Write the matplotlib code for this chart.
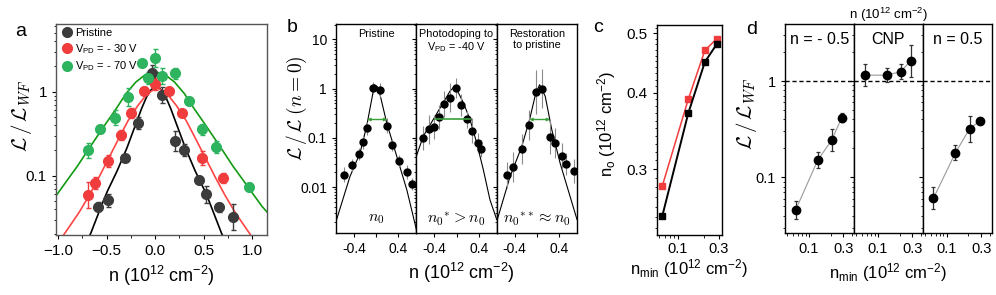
import matplotlib.pyplot as plt
import numpy as np
from matplotlib.ticker import LogLocator, NullFormatter, FixedLocator, MultipleLocator
from matplotlib.lines import Line2D

plt.rcParams['font.family'] = ['Liberation Sans', 'DejaVu Sans']
plt.rcParams['mathtext.fontset'] = 'custom'
plt.rcParams['mathtext.rm'] = 'Liberation Sans'
plt.rcParams['mathtext.it'] = 'Liberation Sans:italic'
plt.rcParams['mathtext.bf'] = 'Liberation Sans:bold'
plt.rcParams['axes.linewidth'] = 1.0
plt.rcParams['xtick.major.size'] = 3
plt.rcParams['ytick.major.size'] = 3
plt.rcParams['xtick.minor.size'] = 1.8
plt.rcParams['ytick.minor.size'] = 1.8

W, H = 996, 295

# ---------------- panel a: L/L_WF vs n ----------------
a_n_pri = [-0.589, -0.49, -0.315, -0.178, -0.034, 0.069, 0.206, 0.301, 0.452, 0.521, 0.661, 0.798]
a_L_pri = [0.043, 0.051, 0.161, 0.42, 1.65, 0.91, 0.26, 0.20, 0.089, 0.060, 0.042, 0.032]
a_f_pri = [1.13, 1.19, 1.05, 1.18, 1.25, 1.25, 1.32, 1.18, 1.05, 1.25, 1.12, 1.43]

a_n_30 = [-0.696, -0.624, -0.49, -0.349, -0.247, -0.11, 0.0, 0.137, 0.274, 0.48, 0.696]
a_L_30 = [0.059, 0.081, 0.151, 0.305, 0.553, 1.03, 1.24, 1.03, 0.553, 0.161, 0.093]
a_f_30 = [1.43, 1.18, 1.18, 1.15, 1.15, 1.12, 1.18, 1.08, 1.08, 1.21, 1.15]

a_n_70 = [-0.696, -0.565, -0.418, -0.281, -0.137, -0.069, 0.0, 0.069, 0.206, 0.343, 0.48, 0.624, 0.969]
a_L_70 = [0.202, 0.36, 0.49, 0.87, 2.18, 1.44, 2.5, 1.54, 1.65, 0.775, 0.356, 0.222, 0.074]
a_f_70 = [1.23, 1.12, 1.23, 1.28, 1.08, 1.18, 1.28, 1.25, 1.15, 1.08, 1.15, 1.18, 1.12]

# fit curves
fit_n_pri = [-0.70, -0.66, -0.59, -0.54, -0.49, -0.39, -0.29, -0.19, -0.14, -0.09, -0.04, 0.01,
             0.06, 0.11, 0.16, 0.21, 0.31, 0.41, 0.51, 0.56, 0.61, 0.68, 0.72]
fit_L_pri = [0.0165, 0.021, 0.034, 0.048, 0.066, 0.115, 0.215, 0.44, 0.63, 0.86, 1.06, 1.17,
             1.06, 0.86, 0.63, 0.44, 0.215, 0.115, 0.066, 0.048, 0.034, 0.021, 0.0165]
fit_n_30 = [-1.08, -0.98, -0.88, -0.78, -0.68, -0.58, -0.48, -0.38, -0.28, -0.18, -0.08, 0.02,
            0.12, 0.22, 0.32, 0.42, 0.52, 0.62, 0.72, 0.82, 0.92, 1.02, 1.12, 1.16]
fit_L_30 = [0.012, 0.017, 0.025, 0.037, 0.058, 0.095, 0.16, 0.27, 0.45, 0.68, 0.95, 1.12,
            0.95, 0.68, 0.45, 0.27, 0.16, 0.095, 0.058, 0.037, 0.025, 0.017, 0.012, 0.011]
fit_n_70 = [-1.15, -1.1, -1.0, -0.9, -0.8, -0.7, -0.6, -0.5, -0.4, -0.3, -0.2, -0.1, 0.0,
            0.1, 0.2, 0.3, 0.4, 0.5, 0.6, 0.7, 0.8, 0.9, 1.0, 1.1, 1.15]
fit_L_70 = [0.037, 0.043, 0.062, 0.09, 0.13, 0.195, 0.29, 0.43, 0.63, 0.95, 1.3, 1.6, 1.73,
            1.6, 1.3, 0.95, 0.63, 0.43, 0.29, 0.195, 0.13, 0.09, 0.062, 0.043, 0.037]

# ---------------- panel b: normalised L, three states ----------------
b_titles = ['Pristine', 'Photodoping to\nV$_{\\rm PD}$ = -40 V', 'Restoration\nto pristine']
b_bottom = [r'$n_0$', r'$n_0{}^{*} > n_0$', r'$n_0{}^{**} \approx n_0$']

b_n = [[-0.577, -0.428, -0.303, -0.242, -0.170, -0.052, 0.068, 0.199, 0.283, 0.414, 0.557, 0.636],
       [-0.60, -0.50, -0.41, -0.31, -0.22, -0.116, -0.014, 0.075, 0.194, 0.272, 0.38, 0.44],
       [-0.529, -0.432, -0.26, -0.134, -0.014, 0.099, 0.237, 0.326, 0.446, 0.523, 0.667]]
b_L = [[0.0178, 0.0276, 0.047, 0.084, 0.155, 1.01, 0.94, 0.178, 0.072, 0.034, 0.0199, 0.0115],
       [0.10, 0.148, 0.168, 0.263, 0.478, 0.655, 1.01, 0.46, 0.236, 0.141, 0.079, 0.0605],
       [0.0178, 0.0257, 0.059, 0.18, 0.85, 1.0, 0.103, 0.079, 0.0436, 0.030, 0.021]]
b_f = [[1.42, 1.33, 1.33, 1.39, 1.33, 1.33, 1.39, 1.39, 1.33, 1.33, 1.39, 1.33],
       [1.76, 2.0, 1.76, 1.76, 1.84, 2.0, 1.6, 1.68, 1.5, 1.76, 1.6, 1.5],
       [1.84, 2.0, 2.0, 2.0, 2.8, 2.5, 2.2, 2.0, 1.84, 1.68, 1.76]]

b_fit_n = [[-0.72, -0.47, -0.29, -0.17, -0.08, -0.03, 0.02, 0.07, 0.19, 0.37, 0.55, 0.72],
           [-0.72, -0.595, -0.416, -0.237, -0.116, -0.027, 0.122, 0.242, 0.362, 0.48, 0.60, 0.72],
           [-0.72, -0.48, -0.27, -0.13, -0.02, 0.05, 0.15, 0.267, 0.416, 0.595, 0.72]]
b_fit_L = [[0.002, 0.0164, 0.049, 0.173, 0.6, 1.2, 1.1, 0.75, 0.2, 0.042, 0.0088, 0.0014],
           [0.042, 0.108, 0.236, 0.52, 0.89, 1.13, 0.52, 0.236, 0.079, 0.0226, 0.0055, 0.0022],
           [0.002, 0.0164, 0.067, 0.236, 0.8, 1.2, 0.7, 0.148, 0.031, 0.0065, 0.0022]]

# width markers (green) at half height
b_width_lo = [-0.16, -0.387, -0.134]
b_width_hi = [0.199, 0.247, 0.237]
b_width_L = 0.236

# ---------------- panel c: n_o vs n_min ----------------
c_nmin = [0.0653, 0.132, 0.207, 0.285]
c_n0_black = [0.251, 0.370, 0.449, 0.480]
c_n0_red = [0.281, 0.390, 0.469, 0.490]

# ---------------- panel d: L/L_WF vs n_min ----------------
d_titles = ['n = - 0.5', 'CNP', 'n = 0.5']
d_nmin = [0.0653, 0.132, 0.207, 0.285]
d_L = [[0.0457, 0.150, 0.244, 0.416],
       [1.15, 1.15, 1.25, 1.62],
       [0.0605, 0.180, 0.318, 0.384]]
d_f = [[1.24, 1.21, 1.30, 1.12],
       [1.30, 1.18, 1.20, 1.47],
       [1.30, 1.20, 1.37, 1.07]]

col_pri = '#3c3c3c'
col_30 = '#f03c3c'
col_70 = '#2eb35e'
fit_30 = '#ff4545'
fit_70 = '#139a13'


def box(l, t, r, b):
    # pixel box -> figure fraction
    return [l / W, 1 - b / H, (r - l) / W, (b - t) / H]


def ftext(x, y, s, **kw):
    # text placed in pixel coordinates of the figure
    kw.setdefault('ha', 'center')
    kw.setdefault('va', 'center')
    return fig.text(x / W, 1 - y / H, s, **kw)


def log_err(y, f):
    y = np.asarray(y)
    f = np.asarray(f)
    return [y - y / f, y * f - y]


def log_minor(ax, axis='y'):
    loc = LogLocator(base=10, subs=np.arange(2, 10), numticks=20)
    if axis == 'y':
        ax.yaxis.set_minor_locator(loc)
        ax.yaxis.set_minor_formatter(NullFormatter())
    else:
        ax.xaxis.set_minor_locator(loc)
        ax.xaxis.set_minor_formatter(NullFormatter())


fig = plt.figure(figsize=(W / 100, H / 100), dpi=100)
L_WF = r'$\mathcal{L}\,/\,\mathcal{L}_{WF}$'

# ===== a =====
ax = fig.add_axes(box(56, 24, 267, 235))
ax.set_yscale('log')
ax.plot(fit_n_pri, fit_L_pri, color='black', lw=1.2)
ax.plot(fit_n_30, fit_L_30, color=fit_30, lw=1.2)
ax.plot(fit_n_70, fit_L_70, color=fit_70, lw=1.2)
for n, L, f, c in [(a_n_pri, a_L_pri, a_f_pri, col_pri),
                   (a_n_30, a_L_30, a_f_30, col_30),
                   (a_n_70, a_L_70, a_f_70, col_70)]:
    ax.errorbar(n, L, yerr=log_err(L, f), fmt='o', ms=7, color=c, ecolor=c,
                elinewidth=1.0, capsize=1.8, capthick=1.0, zorder=3)
ax.set_xlim(-1.02, 1.15)
ax.set_ylim(0.0197, 6.4)
ax.set_xticks([-1.0, -0.5, 0.0, 0.5, 1.0])
ax.xaxis.set_minor_locator(MultipleLocator(0.25))
ax.set_yticks([0.1, 1])
ax.set_yticklabels(['0.1', '1'])
log_minor(ax)
ax.tick_params(labelsize=11)
for s in ax.spines.values():
    s.set_color('#555555')
ax.set_xlabel('n (10$^{12}$ cm$^{-2}$)', fontsize=13, labelpad=4)
ftext(22, 116, L_WF, rotation=90, fontsize=15, math_fontfamily='cm')
handles = [Line2D([], [], ls='none', marker='o', ms=7, color=c) for c in (col_pri, col_30, col_70)]
ax.legend(handles, ['Pristine', 'V$_{\\rm PD}$ = - 30 V', 'V$_{\\rm PD}$ = - 70 V'],
          loc='upper left', frameon=False, fontsize=8, handletextpad=0.2, handlelength=1.2,
          labelspacing=0.35, borderaxespad=0.15, borderpad=0.2)

# ===== b =====
b_edges = [336, 416.3, 496.7, 577]
for i in range(3):
    ax = fig.add_axes(box(b_edges[i], 24, b_edges[i + 1], 233))
    ax.set_yscale('log')
    ax.plot(b_fit_n[i], b_fit_L[i], color='black', lw=0.8)
    ax.errorbar(b_n[i], b_L[i], yerr=log_err(b_L[i], b_f[i]), fmt='o', ms=5, color='black',
                ecolor='#8a8a8a', elinewidth=0.8, capsize=0, zorder=3)
    if i == 1:
        ax.plot([b_width_lo[i], b_width_hi[i]], [b_width_L, b_width_L], color='#3aa03a', lw=1.2, zorder=4)
    else:
        ax.annotate('', xy=(b_width_hi[i], b_width_L), xytext=(b_width_lo[i], b_width_L),
                    arrowprops=dict(arrowstyle='<|-|>', color='#3aa03a', lw=1.0,
                                    mutation_scale=4, shrinkA=0, shrinkB=0), zorder=4)
    ax.set_xlim(-0.72, 0.72)
    ax.set_ylim(0.00117, 20.5)
    ax.set_xticks([-0.4, 0, 0.4])
    ax.set_xticklabels(['-0.4', '', '0.4'])
    ax.set_yticks([0.01, 0.1, 1, 10])
    log_minor(ax)
    ax.tick_params(labelsize=10)
    if i == 0:
        ax.set_yticklabels(['0.01', '0.1', '1', '10'])
    else:
        ax.tick_params(axis='y', which='both', labelleft=False)
    ax.text(0.5, 0.975, b_titles[i], transform=ax.transAxes, ha='center', va='top',
            fontsize=7.8, linespacing=1.1)
    ax.text(0.5, 0.07, b_bottom[i], transform=ax.transAxes, ha='center', va='center',
            fontsize=11.5, math_fontfamily='cm')
ftext(297, 108, r'$\mathcal{L}\,/\,\mathcal{L}\;(n=0)$', rotation=90, fontsize=14, math_fontfamily='cm')
ftext(461, 273, 'n (10$^{12}$ cm$^{-2}$)', fontsize=13)

# ===== c =====
ax = fig.add_axes(box(656.7, 25, 721.7, 235))
ax.set_xscale('log')
ax.set_yscale('log')
ax.plot(c_nmin, c_n0_red, color=col_30, lw=1.1, marker='s', ms=5, zorder=3)
ax.plot(c_nmin, c_n0_black, color='black', lw=1.4, marker='s', ms=5, zorder=4)
ax.set_xlim(0.0563, 0.326)
ax.set_ylim(0.234, 0.516)
ax.yaxis.set_major_locator(FixedLocator([0.3, 0.4, 0.5]))
ax.set_yticklabels(['0.3', '0.4', '0.5'])
ax.yaxis.set_minor_locator(FixedLocator(np.arange(0.24, 0.515, 0.01)))
ax.yaxis.set_minor_formatter(NullFormatter())
ax.xaxis.set_major_locator(FixedLocator([0.1, 0.3]))
ax.set_xticklabels(['0.1', '0.3'])
log_minor(ax, 'x')
ax.tick_params(labelsize=11)
ax.tick_params(axis='x', labelsize=10.5, pad=2)
ftext(689, 269, 'n$_{\\rm min}$ (10$^{12}$ cm$^{-2}$)', fontsize=12)
ftext(607, 124, 'n$_{\\rm o}$ (10$^{12}$ cm$^{-2}$)', rotation=90, fontsize=12)

# ===== d =====
d_edges = [785, 853.9, 922.8, 991.7]
for i in range(3):
    ax = fig.add_axes(box(d_edges[i], 24.3, d_edges[i + 1], 233))
    ax.set_xscale('log')
    ax.set_yscale('log')
    ax.axhline(1, color='black', ls='--', lw=1.0, dashes=(3, 2))
    ax.plot(d_nmin, d_L[i], color='#9a9a9a', lw=0.8, zorder=2)
    ax.errorbar(d_nmin, d_L[i], yerr=log_err(d_L[i], d_f[i]), fmt='o', ms=6, color='black',
                ecolor='#333333', elinewidth=0.9, capsize=1.6, capthick=0.9, zorder=3)
    ax.set_xlim(0.0465, 0.42)
    ax.set_ylim(0.0264, 3.88)
    ax.xaxis.set_major_locator(FixedLocator([0.1, 0.3]))
    ax.set_xticklabels(['0.1', '0.3'])
    log_minor(ax, 'x')
    ax.set_yticks([0.1, 1])
    log_minor(ax)
    ax.tick_params(labelsize=10.5)
    if i == 0:
        ax.set_yticklabels(['0.1', '1'])
    else:
        ax.tick_params(axis='y', which='both', labelleft=False)
    ax.text(0.5, 0.925, d_titles[i], transform=ax.transAxes, ha='center', va='center', fontsize=11.5)
ftext(746, 114, L_WF, rotation=90, fontsize=15, math_fontfamily='cm')
ftext(888, 15, 'n (10$^{12}$ cm$^{-2}$)', fontsize=9.5)
ftext(888, 273, 'n$_{\\rm min}$ (10$^{12}$ cm$^{-2}$)', fontsize=12)

# panel letters
for lab, x, y in [('a', 21, 31), ('b', 292, 28), ('c', 598, 28), ('d', 752, 29)]:
    ftext(x, y, lab, fontsize=14)

plt.savefig('out.png', dpi=100)
